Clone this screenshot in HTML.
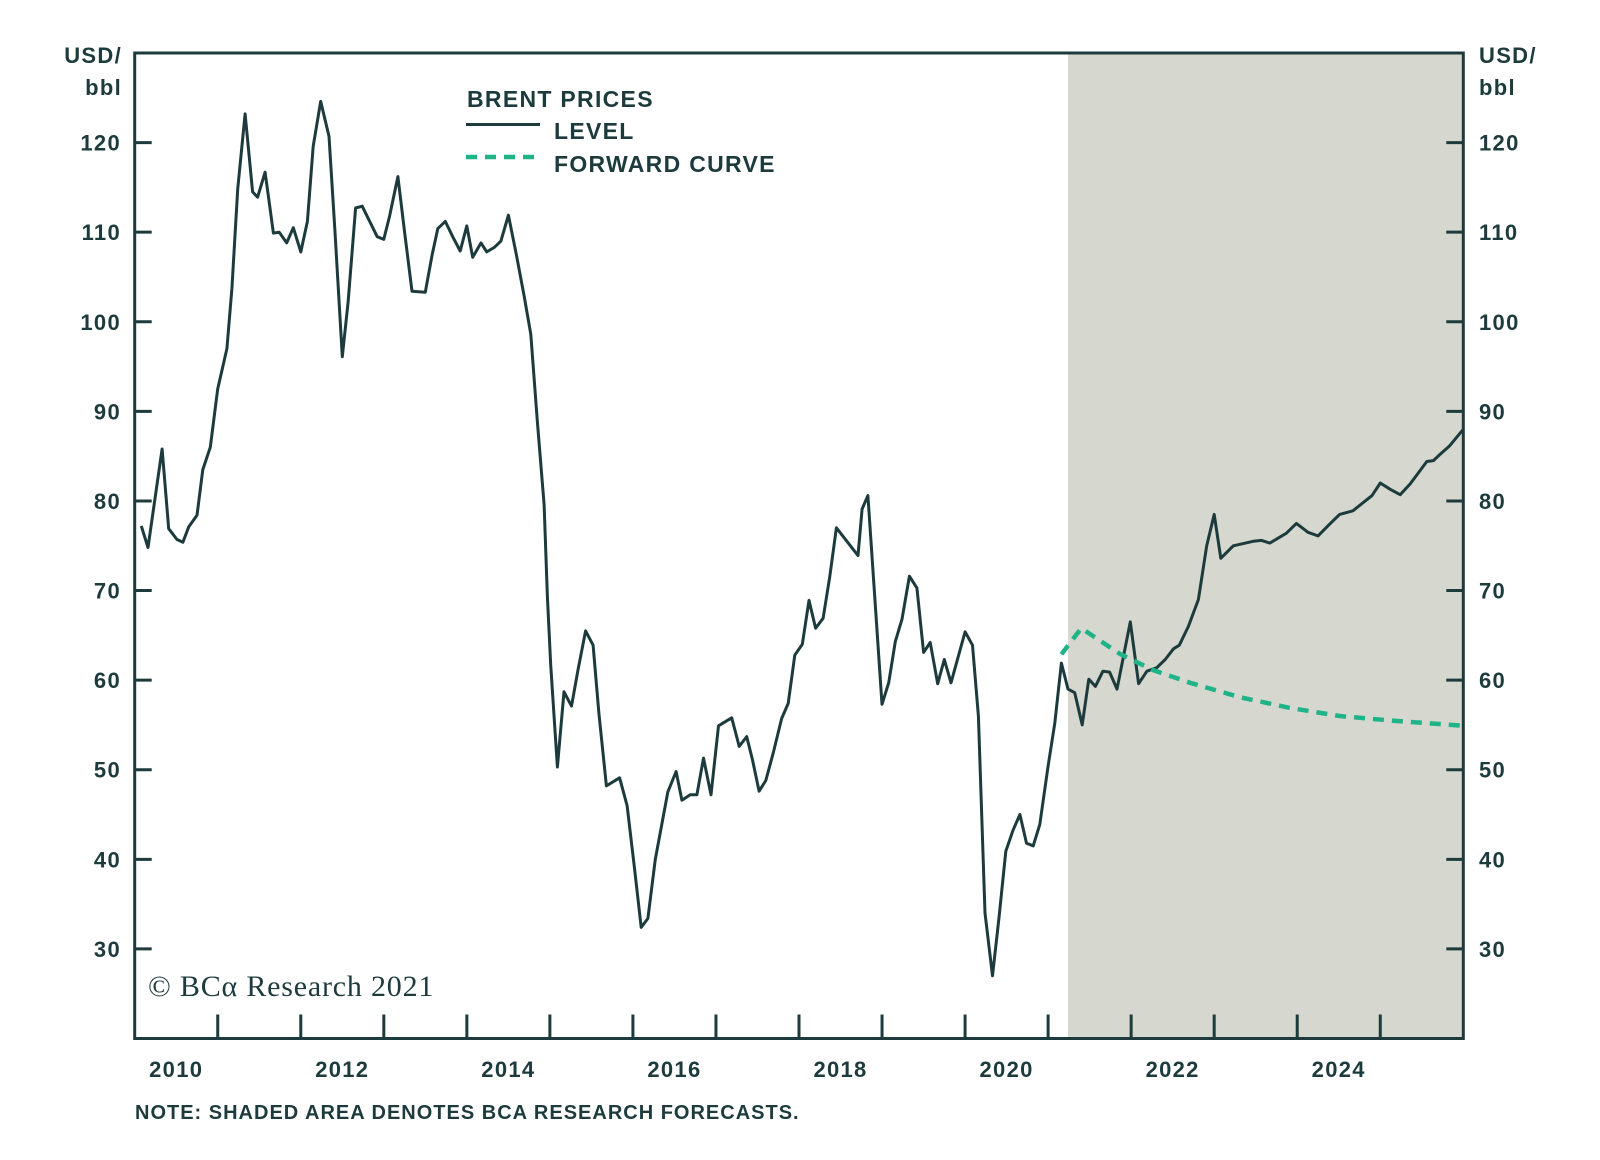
<!DOCTYPE html>
<html><head><meta charset="utf-8"><style>
html,body{margin:0;padding:0;background:#fff;}
svg{display:block;}
text{font-family:"Liberation Sans",Arial,sans-serif;fill:#1d3b3d;font-weight:bold;letter-spacing:1.3px;}
</style></head><body>
<svg id="chart" width="1600" height="1160" viewBox="0 0 1600 1160" xmlns="http://www.w3.org/2000/svg"></svg>
<script>
const levelDates=[2010.08,2010.16,2010.33,2010.41,2010.51,2010.58,2010.65,2010.75,2010.82,2010.91,2011.00,2011.11,2011.17,2011.24,2011.33,2011.42,2011.48,2011.57,2011.67,2011.74,2011.83,2011.91,2012.00,2012.08,2012.15,2012.24,2012.34,2012.41,2012.50,2012.57,2012.66,2012.74,2012.83,2012.92,2013.00,2013.07,2013.17,2013.25,2013.34,2013.50,2013.58,2013.65,2013.74,2013.83,2013.92,2014.00,2014.07,2014.17,2014.24,2014.33,2014.41,2014.50,2014.60,2014.69,2014.77,2014.85,2014.93,2014.97,2015.01,2015.09,2015.17,2015.26,2015.34,2015.43,2015.52,2015.59,2015.68,2015.84,2015.93,2016.02,2016.10,2016.18,2016.27,2016.42,2016.52,2016.59,2016.69,2016.77,2016.85,2016.94,2017.03,2017.19,2017.28,2017.37,2017.44,2017.52,2017.60,2017.69,2017.79,2017.87,2017.95,2018.04,2018.12,2018.20,2018.29,2018.37,2018.45,2018.71,2018.76,2018.83,2019.00,2019.08,2019.16,2019.24,2019.33,2019.42,2019.50,2019.58,2019.67,2019.75,2019.83,2020.00,2020.09,2020.16,2020.24,2020.33,2020.41,2020.49,2020.58,2020.66,2020.74,2020.82,2020.90,2021.00,2021.08,2021.16,2021.24,2021.32,2021.41,2021.49,2021.57,2021.66,2021.74,2021.83,2021.99,2022.09,2022.19,2022.31,2022.41,2022.51,2022.58,2022.69,2022.81,2022.91,2023.00,2023.08,2023.23,2023.47,2023.57,2023.67,2023.87,2023.99,2024.13,2024.25,2024.39,2024.51,2024.67,2024.90,2025.00,2025.12,2025.24,2025.36,2025.56,2025.64,2025.72,2025.83,2026.00];
const levelValues=[77.2,74.8,85.8,76.9,75.7,75.4,77.1,78.4,83.5,86.0,92.5,97.0,103.7,114.8,123.2,114.5,113.9,116.7,109.9,110.0,108.8,110.5,107.8,111.2,119.6,124.6,120.7,110.4,96.1,102.2,112.7,112.9,111.2,109.5,109.2,111.8,116.2,110.0,103.4,103.3,107.4,110.4,111.2,109.5,107.9,110.7,107.2,108.8,107.8,108.3,109.0,111.9,107.3,102.9,98.6,88.8,79.6,69.3,61.7,50.3,58.7,57.1,61.2,65.5,63.9,56.3,48.2,49.1,46.0,38.9,32.4,33.4,40.0,47.5,49.8,46.6,47.2,47.2,51.3,47.2,54.9,55.8,52.6,53.7,51.1,47.6,48.8,51.9,55.7,57.4,62.8,64.0,68.9,65.8,66.9,71.5,77.0,73.9,79.1,80.6,57.3,59.7,64.3,66.8,71.6,70.3,63.1,64.2,59.6,62.3,59.7,65.4,63.9,56.0,34.0,27.0,33.6,40.9,43.3,45.0,41.8,41.5,43.9,50.4,55.2,61.9,59.0,58.6,55.0,60.1,59.3,61.0,60.9,59.0,66.5,59.6,61.0,61.4,62.3,63.5,63.9,66.0,69.0,75.0,78.5,73.6,75.0,75.5,75.6,75.3,76.4,77.5,76.5,76.1,77.4,78.5,78.9,80.6,82.0,81.3,80.7,81.9,84.4,84.5,85.2,86.1,88.0];
const fwdDates=[2021.16,2021.40,2021.87,2022.27,2022.71,2023.31,2023.91,2024.51,2025.12,2026.00];
const fwdValues=[62.9,65.8,62.9,61.1,59.7,58.1,56.9,56.0,55.5,54.9];
const yTicks=[30,40,50,60,70,80,90,100,110,120];
const xLabelYears=[2010,2012,2014,2016,2018,2020,2022,2024];
const forecastStart=2021.24;

const L=134.7,R=1463.3,T=53,B=1038.5,T0=2010,T1=2026,V0=20,V1=130;
const xs=t=>L+(t-T0)/(T1-T0)*(R-L);
const ys=v=>B-(v-V0)/(V1-V0)*(B-T);
const svg=document.getElementById('chart');
const NS='http://www.w3.org/2000/svg';
function mk(tag,attrs,parent){const e=document.createElementNS(NS,tag);for(const k in attrs)e.setAttribute(k,attrs[k]);(parent||svg).appendChild(e);return e;}
const C='#1d3b3d';

let e=mk('rect',{x:xs(forecastStart),y:T,width:R-xs(forecastStart),height:B-T,fill:'#d6d7ce'});



yTicks.forEach(v=>{
  const y=ys(v);
  let a=mk('line',{x1:L,x2:L+17,y1:y,y2:y,stroke:C,'stroke-width':3});
  
  
  let b=mk('line',{x1:R-17,x2:R,y1:y,y2:y,stroke:C,'stroke-width':3});
  
  
  let t1=mk('text',{x:121,y:y+8,'text-anchor':'end','font-size':22});t1.textContent=v;
  
  
  let t2=mk('text',{x:1479,y:y+8,'font-size':22});t2.textContent=v;
  
  
});
for(let yr=T0+1;yr<T1;yr++){
  let a=mk('line',{x1:xs(yr),x2:xs(yr),y1:B,y2:B-24,stroke:C,'stroke-width':3});
  
  
}
xLabelYears.forEach(yr=>{
  let t=mk('text',{x:xs(yr+0.5),y:1077,'text-anchor':'middle','font-size':22});t.textContent=yr;
  
  
});

let p=mk('polyline',{points:levelDates.map((d,i)=>xs(d).toFixed(1)+','+ys(levelValues[i]).toFixed(1)).join(' '),fill:'none',stroke:C,'stroke-width':3,'stroke-linejoin':'round'});


let f=mk('polyline',{points:fwdDates.map((d,i)=>xs(d).toFixed(1)+','+ys(fwdValues[i]).toFixed(1)).join(' '),fill:'none',stroke:'#1fb387','stroke-width':4.5,'stroke-dasharray':'11 8'});



let fr=mk('rect',{x:L,y:T,width:R-L,height:B-T,fill:'none',stroke:C,'stroke-width':3});


</script>
<svg style="position:absolute;left:0;top:0" width="1600" height="1160">
<text x="122" y="63" text-anchor="end" font-size="22">USD/</text>
<text x="122" y="95" text-anchor="end" font-size="22">bbl</text>
<text x="1479" y="63" font-size="22">USD/</text>
<text x="1479" y="95" font-size="22">bbl</text>
<text x="467" y="107" font-size="23">BRENT PRICES</text>
<line x1="466" x2="540" y1="124.5" y2="124.5" stroke="#1d3b3d" stroke-width="3"/>
<text x="554" y="139" font-size="23">LEVEL</text>
<line x1="466" x2="536" y1="157" y2="157" stroke="#1fb387" stroke-width="4.5" stroke-dasharray="11 8"/>
<text x="554" y="172" font-size="23">FORWARD CURVE</text>
<text x="148" y="996" font-size="30" style="font-family:'Liberation Serif',serif;font-weight:normal;letter-spacing:0.8px">© BCα Research 2021</text>
<text x="135" y="1119" font-size="20" style="letter-spacing:1px">NOTE: SHADED AREA DENOTES BCA RESEARCH FORECASTS.</text>
</svg>
</body></html>
